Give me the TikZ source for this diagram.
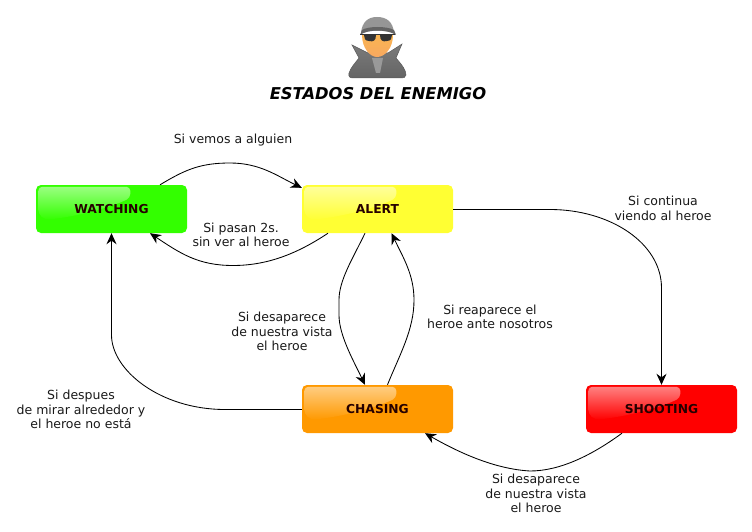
\documentclass[tikz,border=0pt]{standalone}
\usepackage{fontspec}
\setmainfont{DejaVu Sans}
\usetikzlibrary{arrows.meta}
\definecolor{watchcol}{RGB}{51,255,0}
\definecolor{alertcol}{RGB}{255,255,51}
\definecolor{chasecol}{RGB}{255,153,0}
\definecolor{shootcol}{RGB}{255,0,0}
\definecolor{coatcol}{RGB}{100,100,100}
\definecolor{hatcol}{RGB}{150,150,150}
\definecolor{skincol}{RGB}{248,168,96}

% box with the shine in its upper left corner
\newcommand{\statebox}[5]{
    \node (#1) [state, fill=#4] at (#2,#3) {};
    \shade [top color=#4!50!white, bottom color=#4, shading angle=0, rounded corners=4pt]
        ([shift={(2.5pt,-2pt)}]#1.north west) -- ++(92,0) -- ++(0,11)
        .. controls +(-20,10) and +(30,-3) .. ++(-85,22) -- ++(-7,-6) -- cycle;
    \node [statetext] at (#1.center) {#5};
}

\begin{document}
\begin{tikzpicture}[x=1pt, y=-1pt, every node/.style={font=\fontsize{12.5}{14.5}\selectfont}]
    % Styles
    \tikzstyle{state} = [rectangle, rounded corners=5pt, minimum width=151pt, minimum height=48pt, inner sep=0pt, draw=none]
    \tikzstyle{statetext} = [font=\fontsize{12.3}{15}\selectfont\bfseries, text=black!85!red]
    \tikzstyle{arrow} = [-{Stealth[length=11pt,width=10pt]}, line width=0.85pt]
    \tikzstyle{caption} = [align=center, text=black!90]

    \useasboundingbox (0,0) rectangle (752,532);

    % Spy
    \shade [top color=coatcol!85!white, bottom color=coatcol, draw=black!65, line width=0.5pt] (352,45) -- (368,53) -- (388,53) -- (402,44) -- (396,58) .. controls (402,65) and (406,70) .. (406,75)
        .. controls (406,78) and (403,78) .. (400,78) -- (354,78) .. controls (350,78) and (348,77) .. (349,73)
        .. controls (351,67) and (356,62) .. (359,58) -- cycle;
    \fill [black!40] (372,58) -- (383,58) -- (380,73) -- (376,73) -- cycle;
    \shade [top color=skincol!85!yellow, bottom color=skincol] (362,35) .. controls (362,48) and (370,57) .. (377,57)
        .. controls (385,57) and (393,48) .. (393,35) -- cycle;
    \fill [hatcol] (361,33) .. controls (362,22) and (368,17) .. (377,17) .. controls (387,17) and (393,22) .. (394,33)
        .. controls (385,30) and (370,30) .. (361,33) -- cycle;
    \fill [coatcol] (360,35) .. controls (368,29) and (387,29) .. (396,35) -- (394,30) .. controls (387,26) and (368,26) .. (362,30) -- cycle;
    \fill [black!80] (364,35) -- (376,35) .. controls (376,41) and (373,42) .. (369,41) .. controls (365,41) and (364,38) .. (364,35) -- cycle;
    \fill [black!80] (380,35) -- (392,35) .. controls (392,38) and (391,41) .. (387,41) .. controls (383,42) and (380,41) .. (380,35) -- cycle;
    \draw [black!80, line width=1pt] (360,35) -- (395,35);

    % Title
    \node (title) [font=\fontsize{16.3}{18}\selectfont\bfseries\itshape] at (378,93.5) {ESTADOS DEL ENEMIGO};

    % Nodes
    \statebox{watching}{111.5}{209}{watchcol}{WATCHING}
    \statebox{alert}{377.5}{209}{alertcol}{ALERT}
    \statebox{chasing}{377.5}{409}{chasecol}{CHASING}
    \statebox{shooting}{661.5}{409}{shootcol}{SHOOTING}

    % Arrows
    \draw [arrow] ([xshift=48.5pt]watching.north) .. controls +(25,-15) and +(-30,0) .. (230,163) .. controls +(30,0) and +(-25,-12) .. ([yshift=-3pt]alert.north west);
    \draw [arrow] ([xshift=-49.5pt]alert.south) .. controls +(-30,20) and +(35,0) .. (233,265.5) .. controls +(-35,0) and +(30,20) .. ([xshift=38.5pt]watching.south);
    \draw [arrow] ([yshift=-0.5pt]alert.east) -- (550,209.5) .. controls +(60,0) and +(0,-45) .. (661.5,288) -- (shooting.north);
    \draw [arrow] ([xshift=-12.5pt]alert.south) .. controls +(-12,25) and +(0,-20) .. (339,300) -- (339,315) .. controls +(0,20) and +(-12,-25) .. ([xshift=-12.5pt]chasing.north);
    \draw [arrow] ([xshift=10pt]chasing.north) .. controls +(12,-30) and +(0,30) .. (414,300) .. controls +(0,-25) and +(12,25) .. ([xshift=14pt]alert.south);
    \draw [arrow] ([yshift=-0.5pt]chasing.west) -- (225,409.5) .. controls +(-65,0) and +(0,35) .. (111.5,335) -- (watching.south);
    \draw [arrow] ([xshift=-39.5pt]shooting.south) .. controls +(-30,22) and +(30,0) .. (530,471) .. controls +(-35,-2) and +(35,20) .. ([xshift=47.5pt]chasing.south);

    % Captions
    \node (cap1) [caption] at (233,140.5) {Si vemos a alguien};
    \node (cap2) [caption] at (241,235) {Si pasan 2s.\\sin ver al heroe};
    \node (cap3) [caption] at (282,331.5) {Si desaparece\\de nuestra vista\\el heroe};
    \node (cap4) [caption] at (490,317) {Si reaparece el\\heroe ante nosotros};
    \node (cap5) [caption] at (663,208.5) {Si continua\\viendo al heroe};
    \node (cap6) [caption] at (81,409.5) {Si despues\\de mirar alrededor y\\el heroe no está};
    \node (cap7) [caption] at (536,493.5) {Si desaparece\\de nuestra vista\\el heroe};
\end{tikzpicture}
\end{document}
